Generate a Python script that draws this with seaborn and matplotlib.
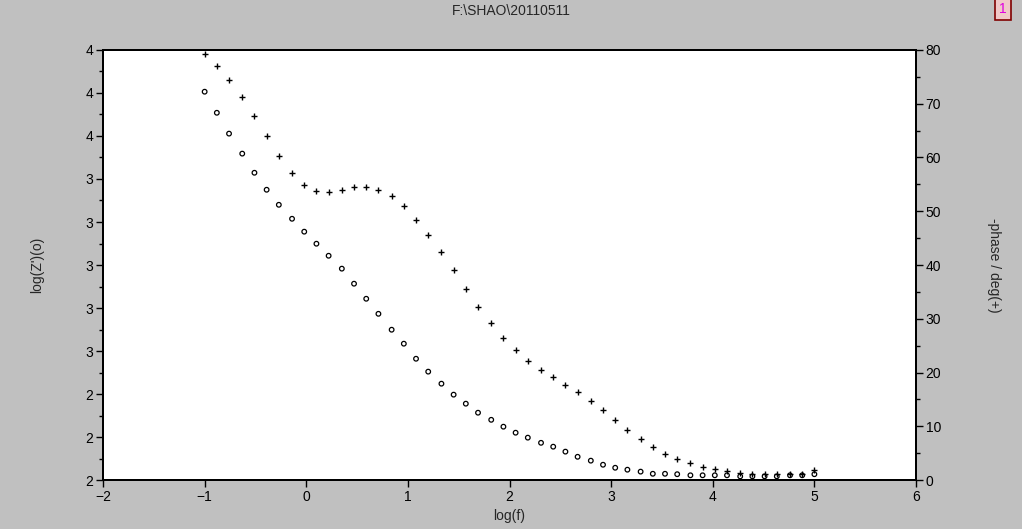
import numpy as np
import pandas as pd
import matplotlib
matplotlib.use("Agg")
import matplotlib.pyplot as plt
import seaborn as sns
from matplotlib.ticker import MultipleLocator, FormatStrFormatter

# data: log(f), log(Z') (circles), -phase (crosses)
log_f = [-1.00, -0.88, -0.76, -0.63, -0.51, -0.39, -0.27, -0.14, -0.02, 0.10,
         0.22, 0.35, 0.47, 0.59, 0.71, 0.84, 0.96, 1.08, 1.20, 1.33,
         1.45, 1.57, 1.69, 1.82, 1.94, 2.06, 2.18, 2.31, 2.43, 2.55,
         2.67, 2.80, 2.92, 3.04, 3.16, 3.29, 3.41, 3.53, 3.65, 3.78,
         3.90, 4.02, 4.14, 4.27, 4.39, 4.51, 4.63, 4.76, 4.88, 5.00]
log_z = [3.806, 3.708, 3.611, 3.518, 3.429, 3.350, 3.280, 3.215, 3.155, 3.099,
         3.043, 2.983, 2.913, 2.843, 2.773, 2.699, 2.634, 2.564, 2.504, 2.448,
         2.397, 2.355, 2.313, 2.280, 2.248, 2.220, 2.197, 2.173, 2.155, 2.132,
         2.108, 2.090, 2.071, 2.057, 2.048, 2.039, 2.029, 2.029, 2.027, 2.022,
         2.022, 2.022, 2.022, 2.017, 2.017, 2.017, 2.017, 2.022, 2.022, 2.027]
phase = [79.3, 77.0, 74.4, 71.3, 67.7, 64.0, 60.3, 57.1, 54.9, 53.8,
         53.6, 54.0, 54.5, 54.5, 54.0, 52.8, 51.0, 48.4, 45.6, 42.4,
         39.1, 35.5, 32.2, 29.2, 26.4, 24.2, 22.1, 20.5, 19.2, 17.7,
         16.4, 14.7, 13.0, 11.2, 9.3, 7.6, 6.1, 4.8, 3.9, 3.2,
         2.4, 2.0, 1.7, 1.3, 1.1, 1.1, 1.1, 1.1, 1.1, 1.9]

df = pd.DataFrame({'log_f': log_f, 'log_z': log_z, 'phase': phase})

sns.set_style("white")
plt.rcParams['font.family'] = ['Liberation Sans', 'DejaVu Sans']
plt.rcParams['axes.linewidth'] = 1.4

fig = plt.figure(figsize=(10.22, 5.29), dpi=100, facecolor='#c0c0c0')
ax = fig.add_axes([0.1008, 0.0926, 0.7955, 0.8129])
ax.set_facecolor('white')

sns.scatterplot(data=df, x='log_f', y='log_z', ax=ax, marker='o', s=11,
                facecolor='none', edgecolor='black', linewidth=0.9)
ax.set_xlim(-2, 6)
ax.set_ylim(2, 4)

ax2 = ax.twinx()
sns.scatterplot(data=df, x='log_f', y='phase', ax=ax2, marker='+', s=22,
                color='black', linewidth=1.0)
ax2.set_ylim(0, 80)

for a in (ax, ax2):
    for sp in a.spines.values():
        sp.set_visible(True)
        sp.set_color('black')
        sp.set_linewidth(1.4)

ax.xaxis.set_major_locator(MultipleLocator(1))
ax.xaxis.set_minor_locator(MultipleLocator(0.5))
ax.yaxis.set_major_locator(MultipleLocator(0.2))
ax.yaxis.set_minor_locator(MultipleLocator(0.1))
ax.yaxis.set_major_formatter(FormatStrFormatter('%.0f'))
ax2.yaxis.set_major_locator(MultipleLocator(10))
ax2.yaxis.set_minor_locator(MultipleLocator(5))

ax.tick_params(axis='both', which='major', direction='out', length=5, width=1,
               color='black', labelsize=10, pad=2, labelcolor='black')
ax.tick_params(axis='both', which='minor', direction='out', length=3, width=1, color='black')
ax.tick_params(axis='y', left=True, right=False)
ax.tick_params(axis='x', bottom=True, top=False)
ax2.tick_params(axis='y', which='major', direction='out', length=5, width=1,
                color='black', labelsize=10, pad=2, labelcolor='black', right=True)
ax2.tick_params(axis='y', which='minor', direction='out', length=3, width=1,
                color='black', right=True)

ax.set_xlabel('log(f)', fontsize=10, labelpad=4)
ax.set_ylabel("log(Z')(o)", fontsize=10, labelpad=30)
ax2.set_ylabel('-phase / deg(+)', fontsize=10, rotation=270, labelpad=43)

fig.text(0.5, 0.980, 'F:\\SHAO\\20110511', ha='center', va='center', fontsize=10)
fig.text(0.9815, 0.983, '1', ha='center', va='center', fontsize=10, color='#e000e0',
         bbox=dict(boxstyle='square,pad=0.3', facecolor='#f0c8c8', edgecolor='#800000', linewidth=1.2))

plt.savefig('out.png', dpi=100, facecolor=fig.get_facecolor())
